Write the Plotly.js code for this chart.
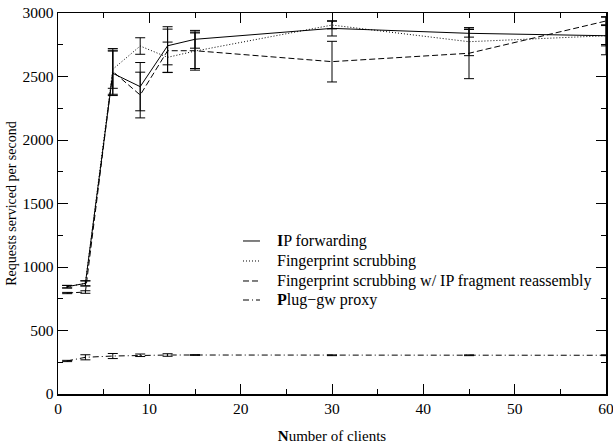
<!DOCTYPE html>
<html>
<head>
<meta charset="utf-8">
<script src="https://cdn.plot.ly/plotly-3.0.1.min.js"></script>
<style>html,body{margin:0;padding:0;background:#fff;}#chart{width:613px;height:445px;}</style>
</head>
<body>
<div id="chart"></div>
<script>
const clients = [1, 3, 6, 9, 12, 15, 30, 45, 60];

const ipForwarding    = [845, 871, 2525, 2420, 2742, 2793, 2879, 2840, 2821];
const ipForwardingErr = [10, 20, 175, 190, 150, 70, 60, 30, 80];

const fpScrubbing     = [845, 871, 2557, 2740, 2651, 2700, 2905, 2774, 2821];
const fpScrubbingErr  = [10, 20, 150, 65, 120, 150, 30, 110, 150];

const fpReassembly    = [795, 803, 2540, 2354, 2703, 2703, 2617, 2683, 2937];
const fpReassemblyErr = [5, 10, 180, 180, 170, 140, 160, 200, 30];

const plugProxy       = [260, 289, 299, 305, 307, 307, 305, 305, 305];
const plugProxyErr    = [5, 20, 20, 10, 10, 3, 3, 3, 3];

const seriesNames = ['<b>I</b>P forwarding', 'Fingerprint scrubbing',
  'Fingerprint scrubbing w/ IP fragment reassembly', '<b>P</b>lug\u2212gw proxy'];
const seriesDash = ['solid', '1px,2px', '6px,3px', '6px,3px,1px,3px'];

function mk(i, y, err) {
  return {
    type: 'scatter', mode: 'lines', name: seriesNames[i], x: clients, y: y,
    line: {color: '#000', width: 1, dash: seriesDash[i]},
    error_y: {type: 'data', array: err, visible: true, color: '#000', thickness: 1, width: 5}
  };
}

const data = [
  mk(0, ipForwarding, ipForwardingErr),
  mk(1, fpScrubbing, fpScrubbingErr),
  mk(2, fpReassembly, fpReassemblyErr),
  mk(3, plugProxy, plugProxyErr)
];

const fontFam = 'Liberation Serif, DejaVu Serif, serif';

// legend drawn as paper-anchored samples + text
const legendRows = [0.4016, 0.3491, 0.2966, 0.2467];
const shapes = [], annotations = [];
legendRows.forEach((yy, i) => {
  shapes.push({type: 'line', xref: 'paper', yref: 'paper', x0: 0.3376, x1: 0.3686, y0: yy, y1: yy,
               line: {color: '#000', width: 1, dash: seriesDash[i]}});
  annotations.push({xref: 'paper', yref: 'paper', x: 0.396, y: yy, xanchor: 'left', yanchor: 'middle',
                    showarrow: false, text: seriesNames[i], font: {family: fontFam, size: 16, color: '#000'}});
});

const layout = {
  width: 613, height: 445,
  margin: {l: 58, r: 7, t: 13, b: 51},
  paper_bgcolor: '#fff', plot_bgcolor: '#fff',
  font: {family: fontFam, size: 15, color: '#000'},
  showlegend: false,
  shapes: shapes, annotations: annotations,
  xaxis: {
    range: [0, 60], dtick: 10, tick0: 0, showgrid: false, zeroline: false,
    showline: true, linecolor: '#000', linewidth: 1.5, mirror: 'ticks',
    ticks: 'inside', ticklen: 10, tickcolor: '#000', tickwidth: 1,
    minor: {dtick: 5, ticks: 'inside', ticklen: 5, tickcolor: '#000'},
    ticklabeloverflow: 'allow',
    tickfont: {family: fontFam, size: 15.5, color: '#000'},
    title: {text: '<b>N</b>umber of clients', font: {family: fontFam, size: 15, color: '#000'}, standoff: 14}
  },
  yaxis: {
    range: [0, 3000], dtick: 500, tick0: 0, showgrid: false, zeroline: false,
    showline: true, linecolor: '#000', linewidth: 1.5, mirror: 'ticks',
    ticks: 'inside', ticklen: 10, tickcolor: '#000', tickwidth: 1,
    minor: {dtick: 250, ticks: 'inside', ticklen: 5, tickcolor: '#000'},
    ticklabeloverflow: 'allow',
    tickfont: {family: fontFam, size: 15.5, color: '#000'},
    title: {text: 'Requests serviced per second', font: {family: fontFam, size: 14, color: '#000'}, standoff: 2}
  }
};

Plotly.newPlot('chart', data, layout, {displayModeBar: false, staticPlot: true});
</script>
</body>
</html>
